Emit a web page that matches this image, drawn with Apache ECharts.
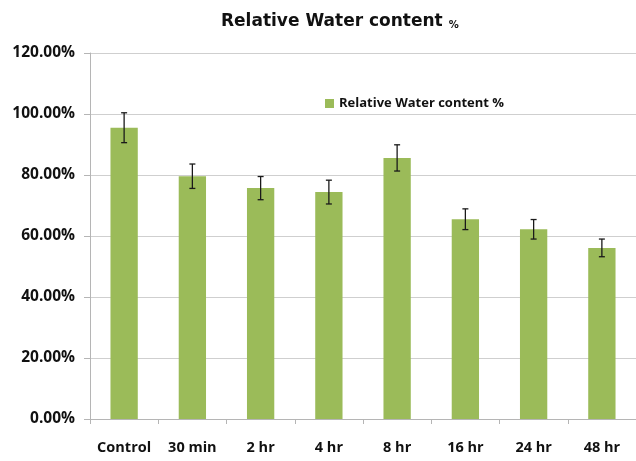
<!DOCTYPE html>
<html>
<head>
<meta charset="utf-8">
<script src="https://cdn.jsdelivr.net/npm/echarts@6/dist/echarts.min.js"></script>
<style>
  html, body { margin: 0; padding: 0; background: #fff; }
  #chart { width: 636px; height: 461px; }
</style>
</head>
<body>
<div id="chart"></div>
<script>
var categories = ['Control', '30 min', '2 hr', '4 hr', '8 hr', '16 hr', '24 hr', '48 hr'];
var waterContent = [95.5, 79.6, 75.7, 74.4, 85.6, 65.5, 62.2, 56.1];
var stdError = [4.9, 4.0, 3.8, 3.9, 4.3, 3.4, 3.2, 2.9];
var yTicks = { min: 0, max: 120, step: 20 };

var seriesName = 'Relative Water content %';
var green = '#9bbb59';
var labelFont = '"Open Sans", Lato, sans-serif';

var errorData = waterContent.map(function(v, i) {
  return [i, v - stdError[i], v + stdError[i]];
});

function renderError(params, api) {
  var x = api.value(0);
  var lo = api.coord([x, api.value(1)]);
  var hi = api.coord([x, api.value(2)]);
  var cap = 3;
  var style = { stroke: '#1a1a1a', lineWidth: 1.3 };
  return {
    type: 'group',
    children: [
      { type: 'line', shape: { x1: hi[0], y1: hi[1], x2: lo[0], y2: lo[1] }, style: style },
      { type: 'line', shape: { x1: hi[0] - cap, y1: hi[1], x2: hi[0] + cap, y2: hi[1] }, style: style },
      { type: 'line', shape: { x1: lo[0] - cap, y1: lo[1], x2: lo[0] + cap, y2: lo[1] }, style: style }
    ]
  };
}

var chart = echarts.init(document.getElementById('chart'));
chart.setOption({
  animation: false,
  title: {
    text: '{a|Relative Water content }{b|%}',
    left: 216,
    top: 8,
    textStyle: {
      rich: {
        a: { fontFamily: '"DejaVu Sans", sans-serif', fontWeight: 'bold', fontSize: 17, color: '#111' },
        b: { fontFamily: '"DejaVu Sans", sans-serif', fontWeight: 'bold', fontSize: 10, color: '#111', verticalAlign: 'bottom' }
      }
    }
  },
  legend: {
    data: [seriesName],
    left: 320,
    top: 92,
    itemWidth: 9,
    itemHeight: 9,
    itemGap: 4,
    icon: 'rect',
    textStyle: { fontFamily: labelFont, fontWeight: 'bold', fontSize: 13, color: '#111' }
  },
  grid: { left: 90, top: 53, width: 551, height: 366 },
  xAxis: {
    type: 'category',
    data: categories,
    axisLine: { lineStyle: { color: '#b5b5b5', width: 1 } },
    axisTick: { show: true, length: 5, lineStyle: { color: '#b5b5b5' } },
    axisLabel: {
      interval: 0, hideOverlap: false,
      fontFamily: labelFont, fontWeight: 'bold', fontSize: 14.5, color: '#111', margin: 21
    }
  },
  yAxis: {
    type: 'value',
    min: yTicks.min,
    max: yTicks.max,
    interval: yTicks.step,
    axisLine: { show: true, lineStyle: { color: '#b5b5b5', width: 1 } },
    axisTick: { show: true, length: 6, lineStyle: { color: '#b5b5b5' } },
    splitLine: { lineStyle: { color: '#cfcfcf', width: 1.2 } },
    axisLabel: {
      fontFamily: labelFont, fontWeight: 'bold', fontSize: 15.5, color: '#111', margin: 15,
      formatter: function(v) { return v.toFixed(2) + '%'; }
    }
  },
  series: [
    {
      name: seriesName,
      type: 'bar',
      data: waterContent,
      barCategoryGap: '60%',
      itemStyle: { color: green }
    },
    {
      type: 'custom',
      renderItem: renderError,
      data: errorData,
      encode: { x: 0, y: [1, 2] },
      z: 10
    }
  ]
});
</script>
</body>
</html>
